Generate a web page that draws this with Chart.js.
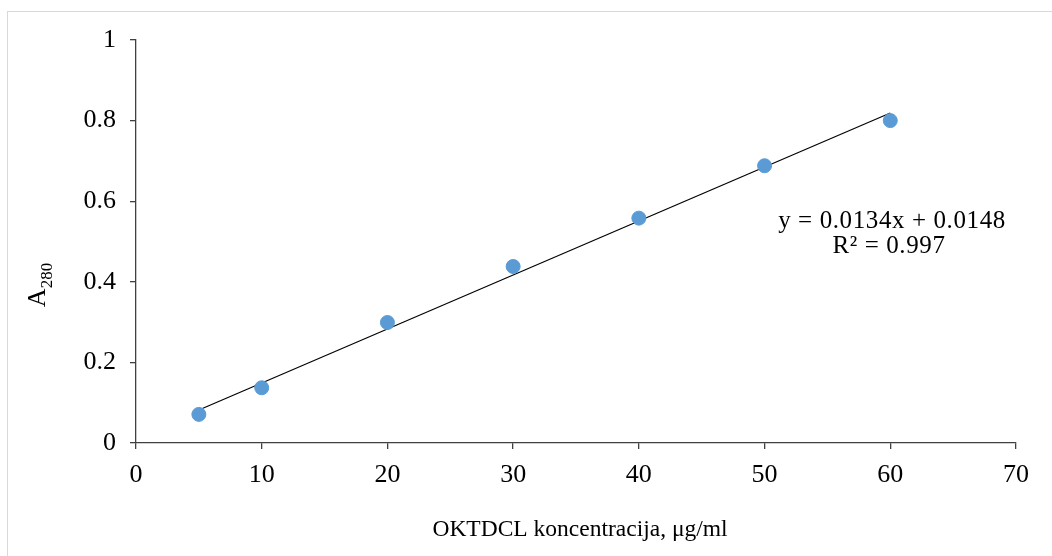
<!DOCTYPE html>
<html>
<head>
<meta charset="utf-8">
<script src="https://cdn.jsdelivr.net/npm/chart.js@4.4.0/dist/chart.umd.min.js"></script>
<style>
  html, body { margin: 0; padding: 0; background: #fff; overflow: hidden; }
  #wrap {
    position: absolute; left: 7px; top: 11px;
    width: 1045px; height: 545px;
    border-top: 1px solid #d9d9d9; border-left: 1px solid #d9d9d9;
  }
  #calib { display: block; }
</style>
</head>
<body>
<div id="wrap"><canvas id="calib" width="1044" height="544"></canvas></div>
<script>
// OKTDCL standard curve, absorbance at 280 nm
const concentrations = [5, 10, 20, 30, 40, 50, 60];
const absorbance = [0.071, 0.137, 0.299, 0.438, 0.558, 0.688, 0.800];
const slope = 0.0134;
const intercept = 0.0148;
const rSquared = 0.997;

const xTicks = [0, 10, 20, 30, 40, 50, 60, 70];
const yTicks = [0, 0.2, 0.4, 0.6, 0.8, 1];

const serif = '"Liberation Serif", "Times New Roman", serif';

const trend = [
  { x: concentrations[0], y: slope * concentrations[0] + intercept },
  { x: concentrations[concentrations.length - 1], y: slope * concentrations[concentrations.length - 1] + intercept }
];

// axis titles + trendline equation
const labelsPlugin = {
  id: 'labels',
  afterDraw(chart) {
    const c = chart.ctx;
    const area = chart.chartArea;
    c.save();
    c.fillStyle = '#000';
    c.textBaseline = 'alphabetic';
    c.textAlign = 'center';
    c.font = '23.5px ' + serif;
    c.fillText('OKTDCL koncentracija, μg/ml', 572, 524);

    c.font = '25px ' + serif;
    c.letterSpacing = '0.6px';
    c.fillText('y = ' + slope + 'x + ' + intercept, area.left + 756, area.top + 188);
    c.fillText('R² = ' + rSquared, area.left + 753, area.top + 213);
    c.letterSpacing = '0px';

    // rotated "A" with subscript 280
    c.translate(37, 273);
    c.rotate(-Math.PI / 2);
    c.textAlign = 'left';
    c.font = '26px ' + serif;
    const wA = c.measureText('A').width;
    c.font = '17px ' + serif;
    const wSub = c.measureText('280').width;
    const start = -(wA + wSub) / 2;
    c.font = '26px ' + serif;
    c.fillText('A', start, 0);
    c.font = '17px ' + serif;
    c.fillText('280', start + wA, 7);
    c.restore();
  }
};

const ctx = document.getElementById('calib').getContext('2d');
const calib = new Chart(ctx, {
  type: 'scatter',
  data: {
    datasets: [{
      label: 'A280',
      data: concentrations.map((x, i) => ({ x: x, y: absorbance[i] })),
      backgroundColor: '#5b9bd5',
      borderColor: '#5b9bd5',
      pointRadius: 7,
      pointHoverRadius: 7,
      order: 1
    }, {
      label: 'Linear',
      type: 'line',
      data: trend,
      borderColor: '#000',
      borderWidth: 1.2,
      pointRadius: 0,
      fill: false,
      order: 2
    }]
  },
  options: {
    responsive: false,
    animation: false,
    layout: { padding: { left: 0, right: 36, top: 28, bottom: 0 } },
    plugins: { legend: { display: false }, tooltip: { enabled: false } },
    scales: {
      x: {
        type: 'linear',
        min: 0, max: 70,
        afterBuildTicks: s => { s.ticks = xTicks.map(v => ({ value: v })); },
        afterFit: s => { s.height = 113; s.paddingLeft = 0; s.paddingRight = 0; },
        border: { color: '#404040', width: 1.3 },
        grid: { drawOnChartArea: false, drawTicks: true, tickLength: 6, color: '#404040', lineWidth: 1.3 },
        ticks: { color: '#000', font: { family: serif, size: 26 }, padding: 11, maxRotation: 0, callback: v => String(v) }
      },
      y: {
        type: 'linear',
        min: 0, max: 1,
        afterBuildTicks: s => { s.ticks = yTicks.map(v => ({ value: v })); },
        afterFit: s => { s.width = 128; s.paddingTop = 0; s.paddingBottom = 0; },
        border: { color: '#404040', width: 1.3 },
        grid: { drawOnChartArea: false, drawTicks: true, tickLength: 6, color: '#404040', lineWidth: 1.3 },
        ticks: { color: '#000', font: { family: serif, size: 26 }, padding: 14, callback: v => String(v) }
      }
    }
  },
  plugins: [labelsPlugin]
});
</script>
</body>
</html>
